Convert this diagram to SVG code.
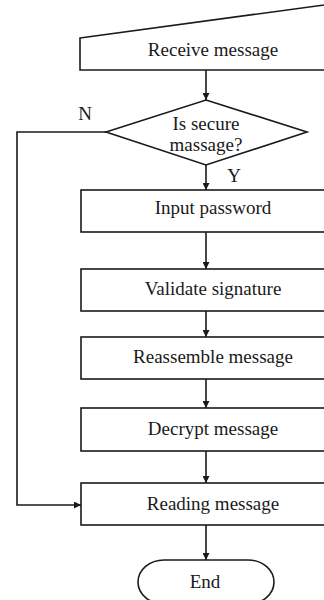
<svg xmlns="http://www.w3.org/2000/svg" width="324" height="600" viewBox="0 0 324 600">
  <style>
    .shape { fill: #ffffff; stroke: #1a1a1a; stroke-width: 1.6; }
    .line { fill: none; stroke: #1a1a1a; stroke-width: 1.6; }
    .label { font-family: 'Liberation Serif', 'Times New Roman', Times, serif; font-size: 19px; fill: #1a1a1a; text-anchor: middle; }
  </style>
  <defs>
    <marker id="arrow" viewBox="0 0 10 10" refX="10" refY="5" markerWidth="7" markerHeight="7" markerUnits="userSpaceOnUse" orient="auto">
      <path d="M0,0 L10,5 L0,10 Z" fill="#1a1a1a"/>
    </marker>
  </defs>

  <g id="connectors">
    <line class="line" x1="206" y1="70" x2="206" y2="100" marker-end="url(#arrow)"/>
    <line class="line" x1="206" y1="165" x2="206" y2="190" marker-end="url(#arrow)"/>
    <line class="line" x1="206" y1="232" x2="206" y2="269" marker-end="url(#arrow)"/>
    <line class="line" x1="206" y1="311" x2="206" y2="337" marker-end="url(#arrow)"/>
    <line class="line" x1="206" y1="379" x2="206" y2="408" marker-end="url(#arrow)"/>
    <line class="line" x1="206" y1="451" x2="206" y2="483" marker-end="url(#arrow)"/>
    <line class="line" x1="206" y1="525" x2="206" y2="560" marker-end="url(#arrow)"/>
    <polyline class="line" points="106,132 17,132 17,505 81,505" marker-end="url(#arrow)"/>
    <text class="label" x="85" y="120">N</text>
    <text class="label" x="234" y="182">Y</text>
  </g>

  <g id="receive">
    <polygon class="shape" points="80,38 346,2 346,70 80,70"/>
    <text class="label" x="213" y="56">Receive message</text>
  </g>

  <g id="decision">
    <polygon class="shape" points="206,100 307,132 206,165 106,132"/>
    <text class="label" x="206" y="130">Is secure</text>
    <text class="label" x="206" y="151">massage?</text>
  </g>

  <g id="input-password">
    <rect class="shape" x="81" y="190" width="265" height="42"/>
    <text class="label" x="213" y="214">Input password</text>
  </g>

  <g id="validate-signature">
    <rect class="shape" x="81" y="269" width="265" height="42"/>
    <text class="label" x="213" y="295">Validate signature</text>
  </g>

  <g id="reassemble-message">
    <rect class="shape" x="81" y="337" width="265" height="42"/>
    <text class="label" x="213" y="363">Reassemble message</text>
  </g>

  <g id="decrypt-message">
    <rect class="shape" x="81" y="408" width="265" height="43"/>
    <text class="label" x="213" y="435">Decrypt message</text>
  </g>

  <g id="reading-message">
    <rect class="shape" x="81" y="483" width="265" height="42"/>
    <text class="label" x="213" y="510">Reading message</text>
  </g>

  <g id="end">
    <rect class="shape" x="138" y="560" width="136" height="44" rx="26" ry="22"/>
    <text class="label" x="205" y="588">End</text>
  </g>
</svg>
